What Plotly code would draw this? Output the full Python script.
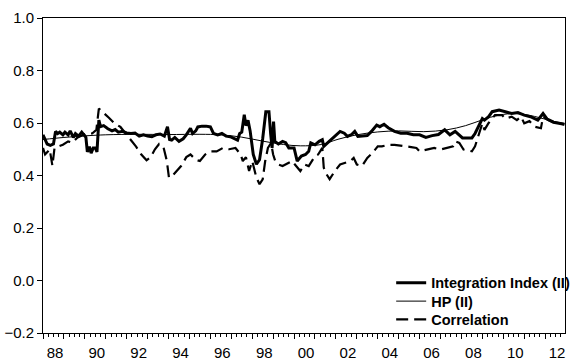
import plotly.graph_objects as go

# Integration Index (II): decimal year, value
ii_t = [1988.00, 1988.08, 1988.20, 1988.35, 1988.50, 1988.60, 1988.70, 1988.80, 1988.95,
        1989.05, 1989.20, 1989.30, 1989.45, 1989.55, 1989.70, 1989.85, 1989.95,
        1990.05, 1990.12, 1990.22, 1990.30, 1990.40, 1990.50, 1990.58, 1990.67, 1990.75, 1990.90,
        1991.10, 1991.30, 1991.45, 1991.60, 1991.80, 1992.00, 1992.20, 1992.40, 1992.60, 1992.80,
        1993.00, 1993.20, 1993.40, 1993.60, 1993.80, 1993.95, 1994.05, 1994.15, 1994.30, 1994.50,
        1994.70, 1994.85, 1995.05, 1995.15, 1995.30, 1995.40, 1995.60, 1995.80, 1996.00, 1996.15,
        1996.35, 1996.55, 1996.75, 1996.95, 1997.15, 1997.30, 1997.40, 1997.50, 1997.62, 1997.70,
        1997.80, 1997.90, 1998.05, 1998.20, 1998.35, 1998.50, 1998.65, 1998.80, 1998.88, 1998.95,
        1999.02, 1999.08, 1999.25, 1999.45, 1999.60, 1999.75, 2000.00, 2000.15, 2000.35, 2000.55,
        2000.70, 2000.80, 2001.00, 2001.20, 2001.35, 2001.42, 2001.60, 2001.80, 2001.95, 2002.20,
        2002.40, 2002.55, 2002.75, 2002.90, 2003.05, 2003.30, 2003.50, 2003.70, 2003.95, 2004.10,
        2004.30, 2004.50, 2004.80, 2005.10, 2005.40, 2005.70, 2006.00, 2006.30, 2006.60, 2006.90,
        2007.20, 2007.45, 2007.70, 2008.05, 2008.30, 2008.50, 2008.65, 2008.80, 2009.00, 2009.10,
        2009.30, 2009.47, 2009.80, 2010.10, 2010.40, 2010.70, 2011.00, 2011.30, 2011.65, 2011.90,
        2012.10, 2012.40, 2012.70, 2012.92]
ii_v = [0.555, 0.540, 0.520, 0.515, 0.520, 0.568, 0.560, 0.565, 0.555,
        0.565, 0.555, 0.570, 0.545, 0.560, 0.550, 0.565, 0.555,
        0.545, 0.490, 0.510, 0.485, 0.505, 0.505, 0.490, 0.611, 0.586, 0.590,
        0.578, 0.570, 0.575, 0.565, 0.568, 0.562, 0.560, 0.562, 0.550, 0.555,
        0.550, 0.548, 0.555, 0.558, 0.550, 0.586, 0.537, 0.535, 0.545, 0.530,
        0.540, 0.555, 0.580, 0.560, 0.570, 0.585, 0.588, 0.588, 0.585, 0.560,
        0.555, 0.560, 0.550, 0.548, 0.540, 0.535, 0.560, 0.565, 0.632, 0.590,
        0.610, 0.570, 0.480, 0.443, 0.460, 0.540, 0.643, 0.643, 0.560, 0.505,
        0.605, 0.530, 0.520, 0.530, 0.525, 0.505, 0.505, 0.455, 0.474, 0.480,
        0.492, 0.524, 0.517, 0.530, 0.536, 0.511, 0.524, 0.540, 0.549, 0.568,
        0.561, 0.549, 0.556, 0.568, 0.549, 0.550, 0.552, 0.568, 0.592, 0.586,
        0.595, 0.582, 0.568, 0.561, 0.561, 0.555, 0.555, 0.545, 0.552, 0.556,
        0.574, 0.555, 0.568, 0.543, 0.543, 0.543, 0.560, 0.586, 0.617, 0.611,
        0.624, 0.643, 0.649, 0.643, 0.636, 0.640, 0.630, 0.624, 0.611, 0.636,
        0.615, 0.603, 0.598, 0.595]

# Hodrick-Prescott trend of the index
hp_t = [1988.0, 1989.0, 1990.0, 1991.0, 1992.5, 1994.0, 1995.5, 1996.5, 1997.5, 1998.5,
        1999.5, 2000.3, 2001.3, 2002.1, 2003.0, 2004.0, 2005.0, 2006.2, 2007.3, 2008.2,
        2009.0, 2009.8, 2010.6, 2011.5, 2012.3, 2012.92]
hp_v = [0.537, 0.545, 0.551, 0.555, 0.557, 0.556, 0.557, 0.555, 0.546, 0.531,
        0.518, 0.513, 0.518, 0.538, 0.555, 0.566, 0.570, 0.567, 0.574, 0.590,
        0.612, 0.630, 0.636, 0.625, 0.608, 0.598]

# Correlation
cr_t = [1988.00, 1988.10, 1988.22, 1988.32, 1988.45, 1988.55, 1988.75, 1988.95, 1989.20, 1989.40,
        1989.65, 1989.90, 1990.10, 1990.35, 1990.55, 1990.67, 1990.90, 1991.15, 1991.40, 1991.70,
        1991.95, 1992.20, 1992.45, 1992.70, 1992.95, 1993.15, 1993.35, 1993.55, 1993.75, 1993.92,
        1994.02, 1994.20, 1994.40, 1994.60, 1994.85, 1995.05, 1995.30, 1995.50, 1995.75, 1996.00,
        1996.30, 1996.60, 1996.90, 1997.20, 1997.45, 1997.55, 1997.70, 1997.85, 1998.00, 1998.20,
        1998.35, 1998.50, 1998.62, 1998.75, 1998.90, 1999.00, 1999.10, 1999.25, 1999.45, 1999.65,
        1999.90, 2000.30, 2000.50, 2000.70, 2001.00, 2001.15, 2001.35, 2001.42, 2001.55, 2001.70,
        2001.95, 2002.20, 2002.45, 2002.70, 2002.85, 2003.00, 2003.25, 2003.50, 2003.75, 2004.00,
        2004.20, 2004.50, 2004.80, 2005.10, 2005.35, 2005.60, 2005.85, 2006.00, 2006.40, 2006.70,
        2007.00, 2007.30, 2007.60, 2007.70, 2007.90, 2008.10, 2008.50, 2008.65, 2008.80, 2009.00,
        2009.10, 2009.30, 2009.60, 2009.95, 2010.10, 2010.40, 2010.65, 2010.85, 2011.00, 2011.25,
        2011.50, 2011.80, 2011.90, 2012.15, 2012.50, 2012.92]
cr_v = [0.505, 0.480, 0.490, 0.500, 0.437, 0.505, 0.511, 0.517, 0.530, 0.525,
        0.545, 0.555, 0.561, 0.560, 0.574, 0.655, 0.640, 0.620, 0.600, 0.585,
        0.560, 0.536, 0.510, 0.480, 0.458, 0.470, 0.500, 0.520, 0.511, 0.455,
        0.392, 0.400, 0.417, 0.436, 0.470, 0.480, 0.460, 0.455, 0.480, 0.492,
        0.492, 0.505, 0.500, 0.505, 0.480, 0.455, 0.470, 0.417, 0.455, 0.392,
        0.367, 0.385, 0.455, 0.505, 0.524, 0.480, 0.455, 0.442, 0.436, 0.445,
        0.455, 0.417, 0.442, 0.436, 0.474, 0.480, 0.505, 0.430, 0.405, 0.386,
        0.417, 0.442, 0.449, 0.455, 0.467, 0.442, 0.436, 0.467, 0.486, 0.511,
        0.511, 0.517, 0.517, 0.515, 0.511, 0.508, 0.505, 0.492, 0.499, 0.505,
        0.499, 0.505, 0.511, 0.530, 0.524, 0.499, 0.492, 0.511, 0.549, 0.599,
        0.574, 0.600, 0.630, 0.630, 0.617, 0.624, 0.611, 0.624, 0.599, 0.607,
        0.586, 0.580, 0.624, 0.611, 0.599, 0.595]

years = list(range(1988, 2013))
year_labels = [f"{y % 100:02d}" if y % 2 == 0 else "" for y in years]

FONT = "Arial, 'Liberation Sans', sans-serif"
LEG_FONT = dict(family=FONT, size=14.5, color="black", weight="bold")

fig = go.Figure()
fig.add_trace(go.Scatter(x=ii_t, y=ii_v, mode="lines", name="Integration Index (II)",
                         line=dict(color="black", width=3), legend="legend"))
fig.add_trace(go.Scatter(x=hp_t, y=hp_v, mode="lines", name="HP (II)",
                         line=dict(color="black", width=1, shape="spline", smoothing=1.0),
                         legend="legend2"))
fig.add_trace(go.Scatter(x=cr_t, y=cr_v, mode="lines", name="Correlation",
                         line=dict(color="black", width=2.2, dash="12px,6px"),
                         legend="legend3"))


def legend_box(y):
    # one legend entry per box so the rows sit tightly stacked
    return dict(x=0.667, y=y, xanchor="left", yanchor="middle",
                bgcolor="rgba(0,0,0,0)", borderwidth=0, font=LEG_FONT)


fig.update_layout(
    width=576, height=362,
    margin=dict(l=43, r=1, t=18, b=24),
    paper_bgcolor="white", plot_bgcolor="white",
    font=dict(family=FONT, size=15, color="black"),
    showlegend=True,
    legend=legend_box(0.159),
    legend2=legend_box(0.101),
    legend3=legend_box(0.043),
)
fig.update_xaxes(
    range=[1988.0, 2012.95], tickvals=years, ticktext=year_labels,
    ticks="outside", ticklen=5, tickwidth=1, tickcolor="black",
    ticklabelshift=12, ticklabelstandoff=1,
    minor=dict(dtick=0.25, tick0=1988, ticks="outside", ticklen=3, tickcolor="black"),
    showline=True, linecolor="black", linewidth=1, mirror=True,
    showgrid=False, zeroline=False,
)
fig.update_yaxes(
    range=[-0.2, 1.0], dtick=0.2, tick0=-0.2, tickformat=".1f",
    ticks="outside", ticklen=5, tickwidth=1, tickcolor="black",
    showline=True, linecolor="black", linewidth=1, mirror=True,
    showgrid=False, zeroline=False,
)

fig.write_html("out.html")
